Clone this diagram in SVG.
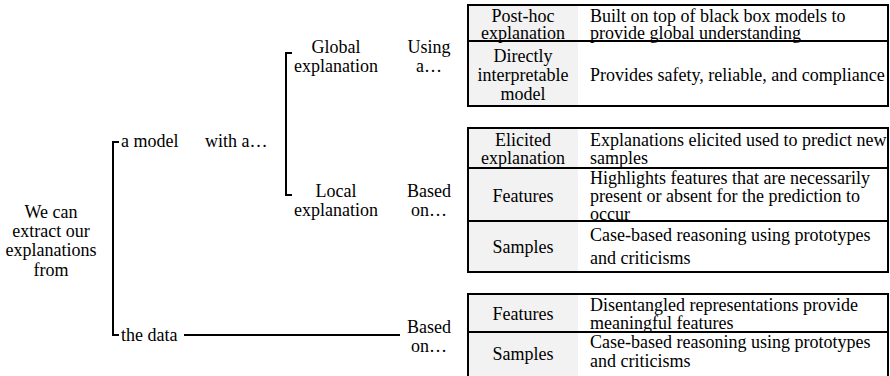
<svg xmlns="http://www.w3.org/2000/svg" width="890" height="376" viewBox="0 0 890 376">
<style>
.c{text-anchor:middle}
.br{fill:none;stroke:#000;stroke-width:2}
.cell{fill:#f2f2f2}
.bd{fill:none;stroke:#000;stroke-width:2}
.ln{stroke:#000;stroke-width:2}
</style>
<rect width="890" height="376" fill="#fff"/>
<g font-family="Liberation Serif, Times New Roman, serif" font-size="18" fill="#000">
<g id="connectors">
<path class="br" d="M119,142 H113 V335 H119"/>
<path class="br" d="M292,53 H286 V195 H292"/>
<line class="ln" x1="184" y1="335" x2="400" y2="335" stroke-width="1.5"/>
</g>
<g id="root">
<text class="c" x="51" y="218">We can</text>
<text class="c" x="51" y="237">extract our</text>
<text class="c" x="51" y="256">explanations</text>
<text class="c" x="51" y="276">from</text>
</g>
<g id="model"><text x="121" y="147">a model</text></g>
<g id="witha"><text x="205" y="147">with a…</text></g>
<g id="data"><text x="121" y="341">the data</text></g>
<g id="global"><text class="c" x="336" y="53">Global</text><text class="c" x="336" y="72">explanation</text></g>
<g id="using"><text class="c" x="429" y="53">Using</text><text class="c" x="429" y="72">a…</text></g>
<g id="local"><text class="c" x="336" y="197">Local</text><text class="c" x="336" y="216">explanation</text></g>
<g id="based1"><text class="c" x="429" y="197">Based</text><text class="c" x="429" y="216">on…</text></g>
<g id="based2"><text class="c" x="429" y="333">Based</text><text class="c" x="429" y="352">on…</text></g>

<g id="table-global">
<rect class="cell" x="469" y="5" width="109" height="101"/>
<rect class="bd" x="468" y="5" width="420" height="101"/>
<line class="ln" x1="468" y1="41" x2="888" y2="41"/>
<text class="c" x="523" y="22">Post-hoc</text>
<text class="c" x="523" y="39">explanation</text>
<text x="590" y="22">Built on top of black box models to</text>
<text x="590" y="39">provide global understanding</text>
<text class="c" x="523" y="62">Directly</text>
<text class="c" x="523" y="81">interpretable</text>
<text class="c" x="523" y="100">model</text>
<text x="590" y="81">Provides safety, reliable, and compliance</text>
</g>

<g id="table-local">
<rect class="cell" x="469" y="128" width="109" height="144"/>
<rect class="bd" x="468" y="128" width="420" height="144"/>
<line class="ln" x1="468" y1="168" x2="888" y2="168"/>
<line class="ln" x1="468" y1="221" x2="888" y2="221"/>
<text class="c" x="523" y="146">Elicited</text>
<text class="c" x="523" y="164">explanation</text>
<text x="590" y="146">Explanations elicited used to predict new</text>
<text x="590" y="164">samples</text>
<text class="c" x="523" y="202">Features</text>
<text x="590" y="184">Highlights features that are necessarily</text>
<text x="590" y="202">present or absent for the prediction to</text>
<text x="590" y="220">occur</text>
<text class="c" x="523" y="253">Samples</text>
<text x="590" y="241">Case-based reasoning using prototypes</text>
<text x="590" y="264">and criticisms</text>
</g>

<g id="table-data">
<rect class="cell" x="469" y="294" width="109" height="82"/>
<rect class="bd" x="468" y="294" width="420" height="84"/>
<line class="ln" x1="468" y1="332" x2="888" y2="332"/>
<text class="c" x="523" y="320">Features</text>
<text x="590" y="311">Disentangled representations provide</text>
<text x="590" y="329">meaningful features</text>
<text class="c" x="523" y="360">Samples</text>
<text x="590" y="348">Case-based reasoning using prototypes</text>
<text x="590" y="367">and criticisms</text>
</g>
</g>
</svg>
